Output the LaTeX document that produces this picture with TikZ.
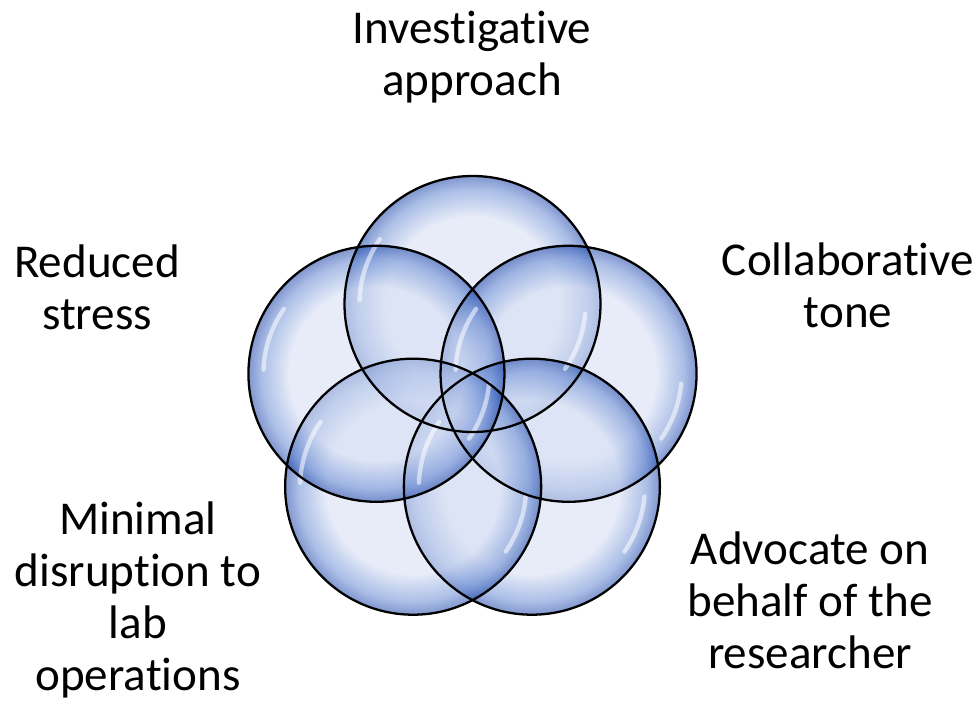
\documentclass[tikz,border=0pt]{standalone}
\usepackage{fontspec}
\setmainfont{Carlito}[Ligatures=NoCommon]
\definecolor{bubin}{RGB}{212,221,243}
\definecolor{bubmid}{RGB}{100,136,210}
\definecolor{bubrim}{RGB}{25,65,165}
\pgfdeclareradialshading{bubble}{\pgfpoint{0bp}{0bp}}{%
  color(0bp)=(bubin); color(17bp)=(bubin); color(22.5bp)=(bubmid);
  color(25bp)=(bubrim); color(50bp)=(bubrim)}
\tikzset{
  bubble/.style={shading=bubble, fill opacity=0.55},
  rim/.style={draw=black, line width=1.3pt},
  hilite/.style={draw=white, line width=2.5pt, line cap=round, opacity=0.55},
  caption/.style={align=center, inner sep=0pt, font=\fontsize{26.8}{29.6}\selectfont}
}
\begin{document}
\begin{tikzpicture}[x=0.02cm, y=0.02cm]
  \useasboundingbox (0,0) rectangle (980,703);
  % centres of the five bubbles
  \coordinate (mid) at (472.5,298);
  \foreach \name/\ang in {inv/90, col/18, adv/306, mini/234, red/162}
    \coordinate (\name) at ([shift={(\ang:101)}]mid);

  % bubbles
  \foreach \name in {inv, col, adv, mini, red}
    \path[bubble] (\name) circle (128);
  % glossy highlights
  \foreach \name in {inv, col, adv, mini, red}{
    \draw[hilite] ([shift={(145:113)}]\name) arc (145:178:113);
    \draw[hilite] ([shift={(-35:113)}]\name) arc (-35:-5:113);
  }
  % outlines on top
  \foreach \name in {inv, col, adv, mini, red}
    \draw[rim] (\name) circle (128);

  % labels
  \node[caption] (invtext) at (472,646) {Investigative\\approach};
  \node[caption] (coltext) at (848,418) {Collaborative\\tone};
  \node[caption] (advtext) at (810,103) {Advocate on\\behalf of the\\researcher};
  \node[caption] (minitext) at (138,103) {Minimal\\disruption to\\lab\\operations};
  \node[caption] (redtext) at (97,416) {Reduced\\stress};
\end{tikzpicture}
\end{document}
